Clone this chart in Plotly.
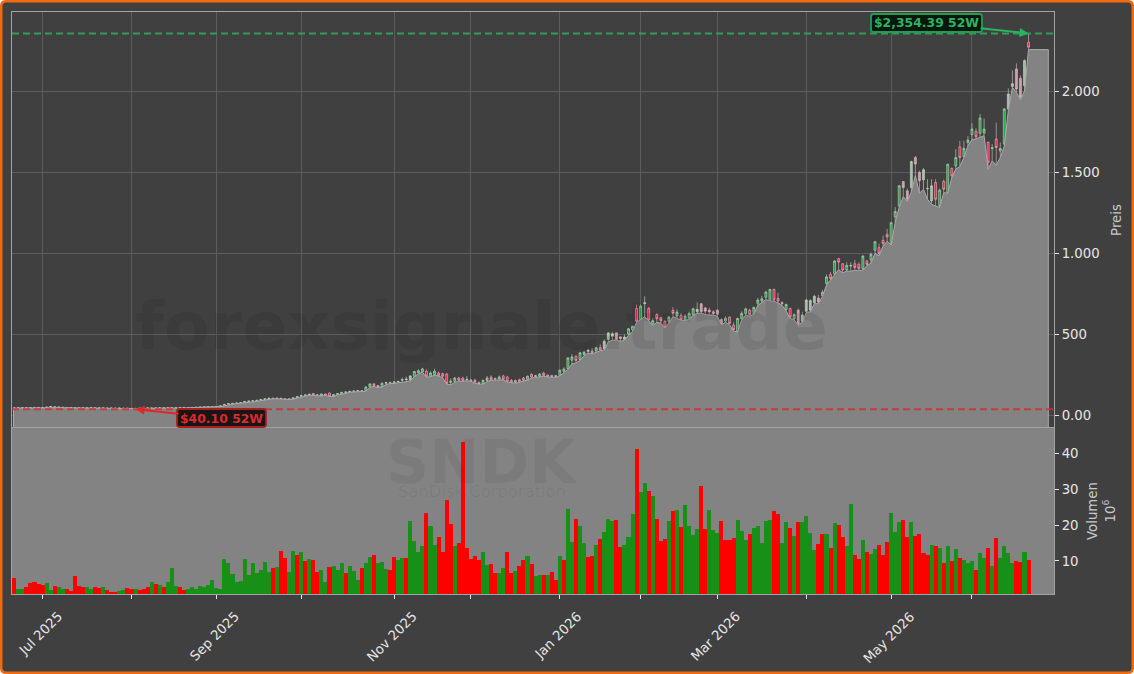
import pandas as pd
import plotly.graph_objects as go

# Trading calendar
holidays = ["2025-07-04", "2025-09-01", "2025-11-27", "2025-12-25", "2026-01-01",
            "2026-01-19", "2026-02-16", "2026-04-03", "2026-05-25", "2026-06-19"]
dates = pd.bdate_range("2025-06-20", "2026-06-22").difference(pd.to_datetime(holidays))

opens = [
    47, 48, 49, 50, 49, 50, 51, 49, 50, 53,
    56, 52, 53, 50, 49, 50, 47, 48, 49, 48,
    49, 47, 48, 47, 46, 47, 46, 47, 45, 46,
    44, 45, 46, 47, 48, 47, 48, 49, 48, 49,
    48, 49, 50, 51, 50, 51, 52, 53, 54, 55,
    54, 57, 61, 70, 74, 76, 78, 80, 88, 90,
    92, 95, 100, 104, 108, 106, 108, 104, 102, 103,
    110, 118, 124, 128, 137, 126, 124, 134, 140, 120,
    130, 134, 144, 146, 150, 152, 154, 152, 177, 196,
    186, 178, 200, 204, 202, 208, 218, 222, 220, 243,
    265, 270, 274, 243, 253, 263, 259, 257, 205, 212,
    232, 232, 222, 220, 218, 205, 198, 217, 238, 228,
    226, 245, 238, 218, 206, 222, 232, 222, 255, 240,
    243, 263, 250, 248, 242, 249, 274, 290, 342, 366,
    346, 377, 395, 398, 398, 420, 412, 470, 490, 510,
    485, 470, 504, 530, 660, 593, 690, 660, 565, 623,
    603, 580, 582, 648, 613, 617, 590, 603, 624, 640,
    689, 664, 650, 640, 650, 592, 583, 607, 558, 519,
    597, 630, 650, 630, 692, 706, 730, 712, 778, 722,
    698, 654, 660, 598, 650, 582, 644, 650, 695, 725,
    740, 815, 870, 874, 967, 936, 897, 922, 936, 932,
    905, 953, 959, 1019, 1035, 1080, 1117, 1062, 1224, 1292,
    1442, 1385, 1405, 1590, 1498, 1453, 1398, 1323, 1436, 1292,
    1442, 1374, 1523, 1539, 1656, 1597, 1683, 1732, 1751, 1739,
    1741, 1683, 1646, 1704, 1630, 1673, 1889, 2028, 2136, 2078,
    2033, 2300,
]
highs = [
    49, 50, 51, 52, 51, 52, 52, 51, 54, 57,
    58, 54, 54, 52, 51, 52, 49, 50, 51, 50,
    50, 49, 49, 49, 48, 48, 48, 48, 47, 47,
    46, 47, 48, 49, 50, 49, 50, 50, 50, 52,
    50, 51, 52, 52, 52, 53, 54, 55, 56, 57,
    58, 62, 72, 76, 78, 80, 82, 90, 92, 94,
    97, 102, 106, 110, 111, 110, 110, 106, 105, 112,
    120, 126, 130, 136, 140, 132, 136, 136, 142, 134,
    138, 146, 150, 152, 154, 156, 158, 180, 198, 200,
    190, 205, 208, 210, 212, 216, 235, 240, 250, 275,
    285, 295, 285, 272, 290, 272, 265, 262, 230, 238,
    240, 240, 245, 226, 228, 212, 222, 245, 250, 235,
    248, 252, 245, 225, 222, 228, 238, 248, 262, 252,
    262, 270, 255, 252, 250, 285, 298, 360, 378, 372,
    392, 398, 412, 415, 425, 440, 470, 515, 515, 512,
    490, 500, 540, 555, 685, 685, 735, 670, 600, 630,
    610, 590, 615, 668, 655, 632, 625, 640, 665, 697,
    695, 670, 665, 650, 655, 600, 612, 612, 575, 603,
    642, 665, 658, 672, 725, 738, 770, 780, 782, 757,
    705, 690, 666, 630, 660, 640, 720, 715, 745, 745,
    775, 870, 885, 958, 972, 940, 945, 945, 960, 945,
    990, 960, 1005, 1075, 1060, 1110, 1150, 1192, 1285, 1420,
    1445, 1400, 1570, 1600, 1510, 1525, 1457, 1457, 1457, 1399,
    1455, 1552, 1530, 1642, 1693, 1693, 1724, 1802, 1770, 1858,
    1831, 1690, 1672, 1806, 1683, 1895, 2016, 2126, 2171, 2095,
    2195, 2354.39,
]
lows = [
    46, 47, 48, 48, 47, 49, 48, 48, 49, 52,
    50, 50, 49, 48, 47, 46, 46, 47, 47, 47,
    46, 45, 46, 45, 44, 45, 44, 44, 43, 42,
    40.10, 43, 44, 45, 46, 45, 46, 47, 46, 47,
    46, 47, 48, 48, 49, 49, 50, 51, 52, 53,
    53, 56, 60, 68, 72, 74, 76, 78, 84, 86,
    88, 93, 98, 102, 104, 104, 102, 100, 100, 102,
    108, 116, 122, 126, 124, 122, 122, 126, 118, 118,
    128, 132, 140, 144, 146, 148, 150, 150, 175, 180,
    174, 176, 192, 198, 198, 204, 205, 212, 215, 240,
    258, 268, 238, 240, 250, 243, 235, 195, 190, 205,
    212, 212, 215, 212, 200, 195, 194, 210, 218, 220,
    222, 220, 208, 202, 200, 205, 214, 218, 232, 235,
    240, 243, 238, 236, 236, 245, 265, 285, 320, 325,
    340, 370, 385, 382, 390, 400, 405, 455, 465, 465,
    458, 465, 495, 520, 575, 590, 610, 585, 555, 575,
    570, 540, 570, 610, 600, 588, 585, 595, 618, 630,
    632, 622, 620, 620, 612, 560, 575, 560, 522, 515,
    590, 620, 612, 625, 680, 695, 715, 708, 705, 695,
    680, 645, 600, 590, 558, 575, 635, 640, 690, 690,
    735, 805, 835, 865, 900, 880, 890, 890, 895, 895,
    895, 925, 940, 1000, 985, 1045, 1075, 1050, 1190, 1285,
    1350, 1320, 1380, 1480, 1370, 1395, 1333, 1302, 1292, 1282,
    1374, 1370, 1465, 1520, 1535, 1590, 1662, 1700, 1705, 1715,
    1725, 1518, 1570, 1543, 1590, 1660, 1880, 2023, 1992, 1946,
    2000, 2255,
]
closes = [
    48, 49, 50, 49, 50, 51, 49, 50, 53, 56,
    52, 53, 50, 49, 50, 47, 48, 49, 48, 49,
    47, 48, 47, 46, 47, 46, 47, 45, 46, 44,
    45, 46, 47, 48, 47, 48, 49, 48, 49, 48,
    49, 50, 51, 50, 51, 52, 53, 54, 55, 54,
    57, 61, 70, 74, 76, 78, 80, 88, 90, 92,
    95, 100, 104, 108, 106, 108, 104, 102, 103, 110,
    118, 124, 128, 132, 126, 128, 134, 128, 120, 130,
    136, 144, 146, 150, 152, 154, 153, 177, 196, 186,
    178, 200, 204, 202, 208, 210, 222, 226, 245, 272,
    277, 288, 243, 263, 274, 247, 243, 198, 212, 232,
    218, 216, 224, 215, 207, 198, 218, 232, 222, 226,
    238, 224, 212, 206, 216, 210, 218, 243, 238, 246,
    257, 247, 243, 241, 246, 280, 288, 356, 362, 340,
    387, 391, 402, 390, 418, 405, 458, 510, 505, 470,
    475, 485, 535, 550, 582, 675, 695, 589, 586, 597,
    585, 545, 607, 630, 638, 592, 613, 630, 658, 655,
    642, 644, 640, 630, 625, 565, 600, 568, 531, 599,
    630, 658, 623, 667, 712, 720, 761, 778, 712, 706,
    691, 685, 607, 622, 566, 620, 712, 710, 735, 700,
    760, 855, 845, 953, 946, 897, 926, 925, 912, 907,
    983, 932, 994, 1072, 1000, 1060, 1101, 1189, 1257, 1416,
    1405, 1333, 1566, 1550, 1447, 1515, 1400, 1416, 1333, 1389,
    1395, 1549, 1477, 1590, 1590, 1646, 1698, 1765, 1718, 1833,
    1765, 1560, 1650, 1652, 1646, 1889, 1981, 2045, 2012, 1961,
    2187, 2270,
]
# Volume in millions
volumes = [
    5.2, 2.2, 2.2, 2.8, 3.8, 4.1, 3.7, 3.4, 3.8, 1.9,
    3.0, 2.6, 2.1, 2.2, 1.7, 5.8, 3.0, 2.7, 2.7, 2.1,
    2.7, 2.5, 2.7, 1.9, 1.3, 1.3, 1.6, 1.9, 2.5, 2.3,
    2.2, 1.9, 2.1, 2.7, 4.1, 3.6, 3.4, 2.7, 4.1, 8.0,
    3.0, 2.7, 1.9, 2.1, 2.7, 2.1, 3.0, 2.8, 3.3, 4.7,
    2.4, 2.2, 10.6, 9.5, 6.4, 4.0, 4.5, 10.6, 6.1, 9.5,
    6.6, 7.5, 9.7, 6.9, 8.1, 8.3, 12.8, 10.9, 6.9, 12.8,
    11.7, 12.5, 10.0, 10.6, 10.3, 6.9, 7.5, 4.1, 8.3, 8.6,
    7.5, 9.5, 6.6, 8.6, 7.2, 4.7, 8.1, 9.5, 11.1, 11.7,
    9.5, 9.7, 7.8, 7.5, 11.2, 10.3, 10.9, 10.9, 21.0, 15.6,
    12.5, 14.2, 23.5, 19.8, 14.5, 16.8, 12.5, 26.9, 20.4, 14.2,
    15.1, 43.2, 13.7, 10.6, 11.4, 10.3, 12.5, 8.9, 9.2, 6.6,
    6.6, 8.0, 12.5, 6.6, 7.2, 8.6, 10.3, 11.4, 9.2, 5.8,
    6.1, 6.1, 6.1, 6.9, 4.7, 11.4, 10.3, 24.6, 15.4, 21.8,
    19.8, 15.1, 11.2, 11.4, 14.5, 16.2, 18.2, 21.8, 21.0, 21.5,
    13.9, 14.5, 16.8, 23.2, 41.2, 29.1, 31.6, 29.4, 28.0, 21.8,
    15.6, 16.2, 21.0, 23.8, 24.1, 19.6, 25.5, 19.8, 17.3, 19.0,
    30.8, 19.0, 24.1, 18.7, 17.9, 21.0, 15.9, 15.9, 16.5, 21.5,
    18.4, 15.9, 17.6, 19.3, 19.8, 15.1, 21.0, 21.5, 23.8, 23.2,
    15.1, 20.9, 19.3, 17.0, 20.9, 20.9, 22.6, 17.8, 13.1, 14.8,
    17.4, 17.6, 13.6, 20.7, 20.1, 16.7, 14.2, 26.0, 11.7, 10.6,
    15.9, 12.5, 12.0, 13.4, 14.5, 11.7, 15.3, 23.5, 18.1, 20.9,
    21.5, 16.7, 20.9, 17.0, 17.6, 12.2, 11.7, 14.5, 14.2, 13.6,
    9.4, 14.2, 10.0, 13.4, 10.8, 10.3, 9.3, 9.9, 7.5, 12.2,
    10.8, 13.6, 8.6, 16.4, 10.8, 14.2, 12.2, 9.4, 10.0, 9.7,
    12.5, 10.3,
]
# 1 = green volume bar, 0 = red
volume_up = [
    0, 1, 1, 0, 0, 0, 0, 0, 1, 1,
    0, 1, 1, 0, 0, 0, 0, 0, 1, 1,
    0, 0, 1, 0, 0, 0, 1, 1, 0, 0,
    1, 0, 0, 0, 1, 0, 1, 0, 1, 1,
    1, 0, 0, 1, 1, 1, 1, 1, 1, 1,
    1, 1, 1, 1, 1, 1, 1, 1, 1, 1,
    1, 1, 1, 1, 0, 1, 0, 0, 1, 1,
    0, 1, 0, 1, 0, 0, 1, 1, 0, 1,
    1, 1, 0, 1, 1, 1, 0, 1, 1, 0,
    1, 1, 1, 0, 0, 1, 1, 0, 1, 1,
    1, 1, 0, 1, 1, 0, 0, 0, 0, 1,
    0, 0, 0, 0, 0, 0, 1, 1, 0, 0,
    1, 1, 0, 0, 1, 0, 0, 1, 0, 1,
    1, 0, 1, 0, 0, 1, 0, 1, 1, 0,
    1, 1, 0, 0, 1, 0, 1, 1, 1, 0,
    0, 1, 1, 1, 0, 1, 1, 0, 1, 0,
    0, 0, 1, 0, 1, 0, 1, 1, 1, 1,
    0, 0, 1, 1, 1, 0, 0, 0, 0, 1,
    1, 1, 0, 1, 1, 1, 1, 1, 0, 0,
    1, 1, 0, 1, 0, 1, 1, 1, 1, 0,
    0, 1, 0, 1, 0, 0, 1, 1, 0, 0,
    1, 0, 1, 1, 0, 0, 0, 1, 1, 1,
    0, 0, 1, 0, 0, 0, 0, 1, 0, 1,
    0, 1, 0, 1, 0, 1, 1, 1, 0, 1,
    1, 0, 1, 0, 1, 1, 1, 1, 0, 0,
    1, 0,
]
# Days whose candle bodies look washed out in the picture
pale_days = [96, 97, 98, 146, 147, 148, 149, 150, 151, 156, 169, 170, 171, 172, 173, 174, 175,
             194, 195, 196, 197, 198, 199, 220, 221, 222, 223, 224, 225, 226, 227,
             246, 247, 248, 249, 250]

price_ticks = [0, 500, 1000, 1500, 2000]
price_labels = ["0.00", "500", "1.000", "1.500", "2.000"]
volume_ticks = [10, 20, 30, 40]
low_52w = 40.10
high_52w = 2354.39

W, H = 1134, 674
GREEN, RED = "#2bb35f", "#d92b2b"
price_range = [-75.8, 2486.6]
volume_range = [0.78, 47.07]
x_range = [-0.57, 257.3]
area_left, area_right = -0.2, 255.9


def px_x(x):
    return x / W


def px_y(y):
    return 1 - y / H


def rounded_rect(x0, y0, x1, y1, r):
    # svg path in paper coordinates from pixel corners
    pts = [("M", x0 + r, y0), ("L", x1 - r, y0), ("Q", x1, y0, x1, y0 + r), ("L", x1, y1 - r),
           ("Q", x1, y1, x1 - r, y1), ("L", x0 + r, y1), ("Q", x0, y1, x0, y1 - r),
           ("L", x0, y0 + r), ("Q", x0, y0, x0 + r, y0)]
    out = []
    for p in pts:
        nums = p[1:]
        coords = [f"{px_x(nums[i]):.5f},{px_y(nums[i + 1]):.5f}" for i in range(0, len(nums), 2)]
        out.append(p[0] + " ".join(coords))
    return " ".join(out) + " Z"


def candles(days, up_fill, down_fill):
    return go.Candlestick(
        x=days, open=[opens[i] for i in days], high=[highs[i] for i in days],
        low=[lows[i] for i in days], close=[closes[i] for i in days],
        increasing=dict(line=dict(color="#c4dcc4", width=0.6), fillcolor=up_fill),
        decreasing=dict(line=dict(color="#eab8c6", width=0.6), fillcolor=down_fill),
        whiskerwidth=0, showlegend=False,
    )


x = list(range(len(dates)))
month_starts = [i for i in x if i == 0 or dates[i].month != dates[i - 1].month][1:]
labelled = [i for i in month_starts if dates[i].month % 2 == 1]

fig = go.Figure()

# Grey area under the lows, closed down to the panel floor
fig.add_trace(go.Scatter(
    x=[area_left, area_left] + x + [area_right, area_right],
    y=[price_range[0], lows[0]] + lows + [lows[-1], price_range[0]],
    fill="toself", fillcolor="#838383", mode="lines",
    line=dict(color="#aaaaaa", width=1), hoverinfo="skip", showlegend=False,
))
fig.add_trace(candles([i for i in x if i not in pale_days], "#22a040", "#e8204a"))
fig.add_trace(candles(pale_days, "#a8bca8", "#c8a0ac"))
fig.add_trace(go.Bar(
    x=x, y=volumes, xaxis="x2", yaxis="y2", width=1.0,
    marker=dict(color=["#169016" if up else "#ff0000" for up in volume_up], line=dict(width=0)),
    showlegend=False,
))

# The grey runs on behind the volume bars
fig.add_shape(type="rect", xref="x2", yref="y2", layer="below",
              x0=x_range[0], x1=x_range[1], y0=volume_range[0], y1=volume_range[1],
              fillcolor="#838383", line_width=0)

# 52 week lines
for level, colour in [(high_52w, GREEN), (low_52w, RED)]:
    fig.add_shape(type="line", xref="x domain", yref="y", x0=0, x1=1, y0=level, y1=level,
                  line=dict(color=colour, width=2, dash="7px,4px"), opacity=0.8)

# Page frame with rounded corners
fig.add_shape(type="path", xref="paper", yref="paper", layer="below",
              path=rounded_rect(1.2, 1.2, W - 1.2, H - 1.2, 5),
              fillcolor="#404040", line=dict(color="#f26a10", width=2.5))

# Boxes behind the 52 week labels
fig.add_shape(type="path", xref="paper", yref="paper", path=rounded_rect(871, 14, 982, 32, 2.5),
              fillcolor="#07170d", line=dict(color="#1f9e52", width=1.8))
fig.add_shape(type="path", xref="paper", yref="paper", path=rounded_rect(177, 409, 266, 427, 2.5),
              fillcolor="#1b1414", line=dict(color="#a82020", width=1.8))

tag_font = dict(family="DejaVu Sans", size=12.4, weight="bold")
fig.add_annotation(x=x[-1], y=high_52w, xref="x", yref="y", text="$2,354.39 52W",
                   font=dict(color=GREEN, **tag_font), ax=-102, ay=-11, axref="pixel", ayref="pixel",
                   showarrow=True, arrowcolor=GREEN, arrowwidth=2, arrowhead=2, arrowsize=0.9)
fig.add_annotation(x=lows.index(low_52w), y=low_52w, xref="x", yref="y", text="$40.10 52W",
                   font=dict(color=RED, **tag_font), ax=86, ay=9, axref="pixel", ayref="pixel",
                   showarrow=True, arrowcolor=RED, arrowwidth=2, arrowhead=2, arrowsize=0.9)

# Watermarks
marks = [("forexsignale.trade", 481, 326, 66.5, "bold", 0.08),
         ("SNDK", 482, 462, 60, "bold", 0.055),
         ("SanDisk Corporation", 482, 491, 16.4, "normal", 0.06)]
for text, mx, my, size, weight, alpha in marks:
    fig.add_annotation(x=px_x(mx), y=px_y(my), xref="paper", yref="paper", text=text, showarrow=False,
                       xanchor="center", yanchor="middle",
                       font=dict(family="DejaVu Sans", size=size, weight=weight, color=f"rgba(0,0,0,{alpha})"))

# Month labels, rotated around their centre
for i in labelled:
    fig.add_annotation(x=i, y=px_y(606), xref="x2", yref="paper", text=dates[i].strftime("%b %Y"),
                       textangle=-45, showarrow=False, xanchor="center", yanchor="top", xshift=-2,
                       font=dict(family="DejaVu Sans", size=13.3, color="#e6e6e6"))

axis_style = dict(showline=True, linecolor="#a3a3a3", linewidth=1, mirror=True, zeroline=False,
                  ticks="outside", tickcolor="#e6e6e6", ticklen=4, tickwidth=1,
                  tickfont=dict(family="DejaVu Sans", size=13.3, color="#e6e6e6"))
grid = dict(showgrid=True, gridcolor="#5d5d5d", gridwidth=1)
title_font = dict(family="DejaVu Sans", size=13.3, color="#c8c8c8")

fig.update_layout(
    width=W, height=H, autosize=False,
    margin=dict(l=0, r=0, t=0, b=0, autoexpand=False),
    paper_bgcolor="white", plot_bgcolor="#404040", bargap=0,
    showlegend=False, hovermode=False,
    xaxis=dict(domain=[px_x(12), px_x(1054)], range=x_range, anchor="y", rangeslider=dict(visible=False),
               tickmode="array", tickvals=month_starts, showticklabels=False, **{**axis_style, "ticks": ""}, **grid),
    yaxis=dict(domain=[px_y(428), px_y(12)], range=price_range, anchor="x", side="right",
               tickmode="array", tickvals=price_ticks, ticktext=price_labels, **axis_style, **grid,
               title=dict(text="Preis", font=title_font, standoff=12)),
    xaxis2=dict(domain=[px_x(12), px_x(1054)], range=x_range, anchor="y2", matches="x",
                tickmode="array", tickvals=month_starts, showticklabels=False, showgrid=False, **axis_style),
    yaxis2=dict(domain=[px_y(594), px_y(428)], range=volume_range, anchor="x2", side="right",
                tickmode="array", tickvals=volume_ticks, showgrid=False, **axis_style,
                title=dict(text="Volumen<br>10<sup>6</sup>", font=title_font, standoff=10)),
)

fig.write_html("out.html", config={"displayModeBar": False}, post_script="document.body.style.margin='0';")
